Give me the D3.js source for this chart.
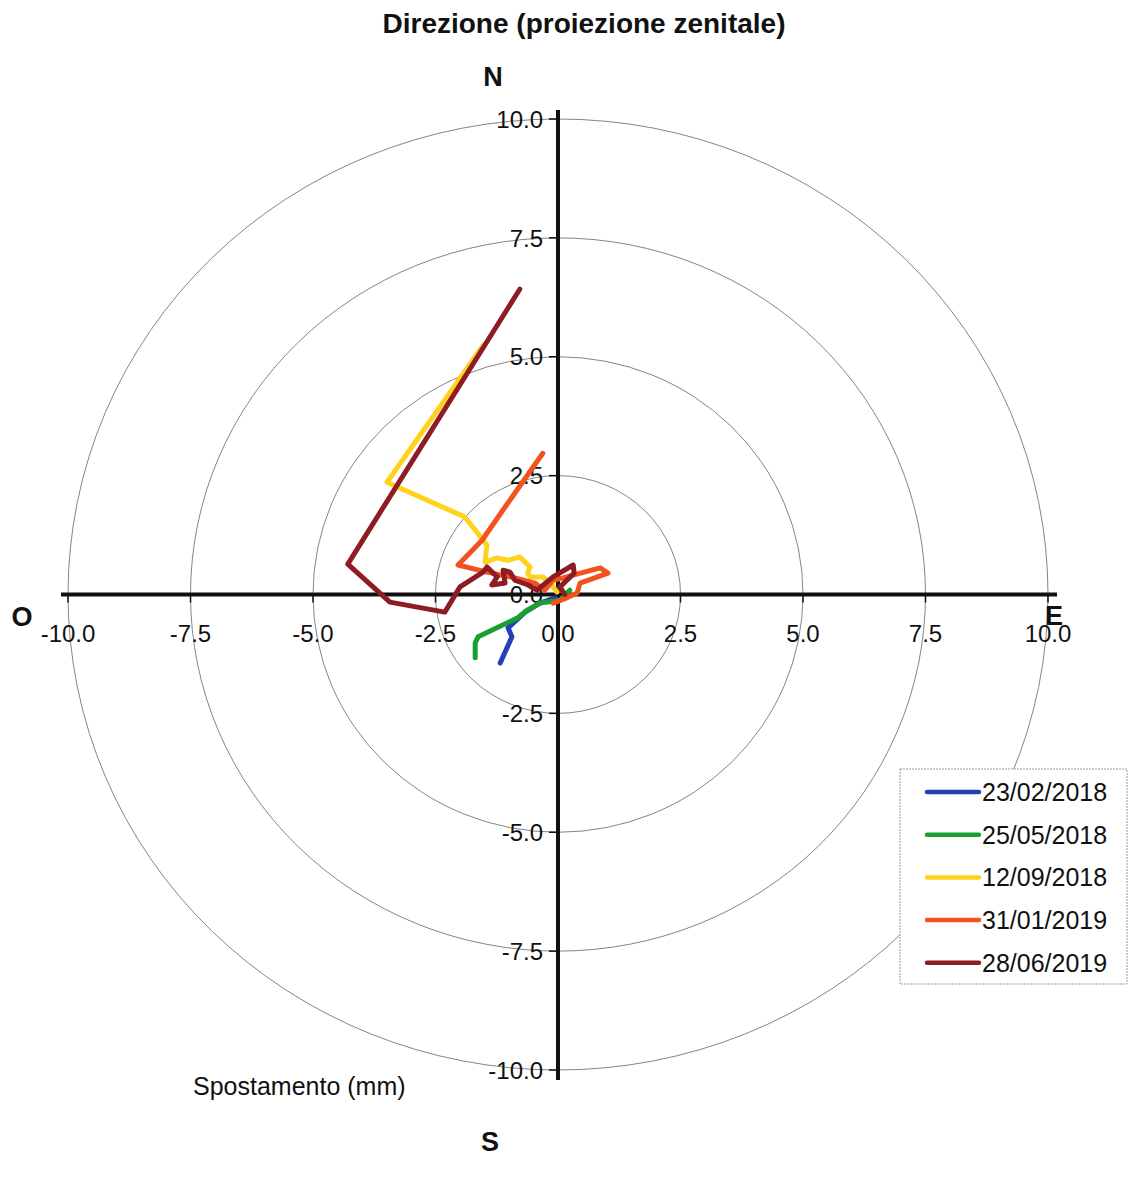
<!DOCTYPE html>
<html>
<head>
<meta charset="utf-8">
<script src="https://cdn.jsdelivr.net/npm/d3@7"></script>
<style>
  body { margin: 0; background: #fff; }
  svg { display: block; font-family: Arial, "Liberation Sans", sans-serif; }
</style>
</head>
<body>
<div id="chart"></div>
<script>
// displacement traces, [east, north] in mm
var dates = ["23/02/2018", "25/05/2018", "12/09/2018", "31/01/2019", "28/06/2019"];
var colors = ["#2440b8", "#18a030", "#ffd21c", "#f2521e", "#8e1c22"];

var s_20180223 = [[-0.06, -0.07], [-0.37, -0.18], [-0.67, -0.37], [-1.02, -0.70], [-0.94, -0.89], [-1.18, -1.44]];
var s_20180525 = [[0.24, 0.09], [0.04, -0.12], [-0.37, -0.18], [-0.63, -0.33], [-0.82, -0.49], [-1.63, -0.89], [-1.69, -1.02], [-1.69, -1.33]];
var s_20180912 = [[-1.53, 5.24], [-3.49, 2.36], [-1.90, 1.63], [-1.45, 1.04], [-1.49, 0.68], [-1.24, 0.77], [-1.02, 0.72],
  [-0.78, 0.79], [-0.57, 0.58], [-0.62, 0.45], [-0.57, 0.37], [-0.31, 0.37], [-0.10, 0.16], [-0.02, 0.05]];
var s_20190131 = [[-0.31, 2.97], [-1.08, 1.84], [-1.55, 1.14], [-2.04, 0.62], [-1.45, 0.47], [-0.88, 0.35], [-0.47, 0.24],
  [-0.27, 0.09], [-0.10, 0.30], [0.10, 0.35], [0.86, 0.56], [1.02, 0.45], [0.45, 0.24], [0.39, 0.03], [0.18, -0.07], [-0.10, -0.18]];
var s_20190628 = [[-0.78, 6.42], [-4.29, 0.64], [-3.43, -0.16], [-2.31, -0.37], [-2.0, 0.16], [-1.53, 0.47], [-1.45, 0.58],
  [-1.24, 0.37], [-1.35, 0.20], [-1.08, 0.24], [-1.12, 0.51], [-0.98, 0.47], [-0.88, 0.30], [-0.61, 0.20], [-0.43, 0.09],
  [-0.10, 0.37], [0.31, 0.62], [0.33, 0.45], [0.04, 0.16], [0.14, 0.0]];
var series = [s_20180223, s_20180525, s_20180912, s_20190131, s_20190628];

var rings = [2.5, 5, 7.5, 10];
var ticks = [-10, -7.5, -5, -2.5, 0, 2.5, 5, 7.5, 10];

var width = 1128, height = 1179;

var x = d3.scaleLinear().domain([-10, 10]).range([68, 1048]);
var y = d3.scaleLinear().domain([-10, 10]).range([1070, 119]);

var svg = d3.select("#chart").append("svg")
  .attr("width", width)
  .attr("height", height);

// rings
svg.append("g").selectAll("ellipse")
  .data(rings)
  .enter()
  .append("ellipse")
  .attr("cx", x(0))
  .attr("cy", y(0))
  .attr("rx", function (d) { return x(d) - x(0); })
  .attr("ry", function (d) { return y(0) - y(d); })
  .attr("fill", "none")
  .attr("stroke", "#666")
  .attr("stroke-width", 0.8);

// axes
svg.append("line")
  .attr("x1", 61).attr("x2", 1057)
  .attr("y1", y(0)).attr("y2", y(0))
  .attr("stroke", "#111").attr("stroke-width", 4);
svg.append("line")
  .attr("x1", x(0)).attr("x2", x(0))
  .attr("y1", 110).attr("y2", 1080)
  .attr("stroke", "#111").attr("stroke-width", 4);

// plain hyphen for negatives, like the original
var fmt = function (d) { return d.toFixed(1); };

// vertical tick labels
var yt = svg.append("g");
yt.selectAll("line").data(ticks).enter().append("line")
  .attr("x1", x(0) - 9).attr("x2", x(0))
  .attr("y1", function (d) { return y(d); })
  .attr("y2", function (d) { return y(d); })
  .attr("stroke", "#111").attr("stroke-width", 1.5);
yt.selectAll("text").data(ticks).enter().append("text")
  .attr("x", x(0) - 15)
  .attr("y", function (d) { return y(d); })
  .attr("dy", "0.36em")
  .attr("text-anchor", "end")
  .attr("font-size", 24)
  .attr("fill", "#111")
  .text(fmt);

// horizontal tick labels
var xt = svg.append("g");
xt.selectAll("line").data(ticks).enter().append("line")
  .attr("x1", function (d) { return x(d); })
  .attr("x2", function (d) { return x(d); })
  .attr("y1", y(0)).attr("y2", y(0) + 8)
  .attr("stroke", "#111").attr("stroke-width", 1.5);
xt.selectAll("text").data(ticks).enter().append("text")
  .attr("x", function (d) { return x(d); })
  .attr("y", y(0) + 47)
  .attr("text-anchor", "middle")
  .attr("font-size", 24)
  .attr("fill", "#111")
  .text(fmt);

// traces
var line = d3.line()
  .x(function (d) { return x(d[0]); })
  .y(function (d) { return y(d[1]); });

svg.append("g").selectAll("path")
  .data(series)
  .enter()
  .append("path")
  .attr("d", line)
  .attr("fill", "none")
  .attr("stroke", function (d, i) { return colors[i]; })
  .attr("stroke-width", 5)
  .attr("stroke-linejoin", "round")
  .attr("stroke-linecap", "round");

// compass letters
var comp = [["N", 493, 86], ["E", 1054, 625], ["O", 22, 626], ["S", 490, 1151]];
svg.append("g").selectAll("text").data(comp).enter().append("text")
  .attr("x", function (d) { return d[1]; })
  .attr("y", function (d) { return d[2]; })
  .attr("text-anchor", "middle")
  .attr("font-size", 27)
  .attr("font-weight", "bold")
  .attr("fill", "#111")
  .text(function (d) { return d[0]; });

// title
svg.append("text")
  .attr("x", 584).attr("y", 33)
  .attr("text-anchor", "middle")
  .attr("font-size", 28)
  .attr("font-weight", "bold")
  .attr("fill", "#111")
  .text("Direzione (proiezione zenitale)");

svg.append("text")
  .attr("x", 193).attr("y", 1095)
  .attr("font-size", 25)
  .attr("fill", "#111")
  .text("Spostamento (mm)");

// legend
var lg = svg.append("g");
lg.append("rect")
  .attr("x", 900).attr("y", 769)
  .attr("width", 227).attr("height", 215)
  .attr("fill", "#fff")
  .attr("stroke", "#999")
  .attr("stroke-width", 1)
  .attr("stroke-dasharray", "2,1");
var items = lg.selectAll("g.item").data(dates).enter().append("g")
  .attr("class", "item")
  .attr("transform", function (d, i) { return "translate(0," + (792 + i * 42.7) + ")"; });
items.append("line")
  .attr("x1", 927).attr("x2", 979)
  .attr("stroke", function (d, i) { return colors[i]; })
  .attr("stroke-width", 4.5)
  .attr("stroke-linecap", "round");
items.append("text")
  .attr("x", 982)
  .attr("dy", "0.36em")
  .attr("font-size", 25)
  .attr("fill", "#111")
  .text(function (d) { return d; });
</script>
</body>
</html>
